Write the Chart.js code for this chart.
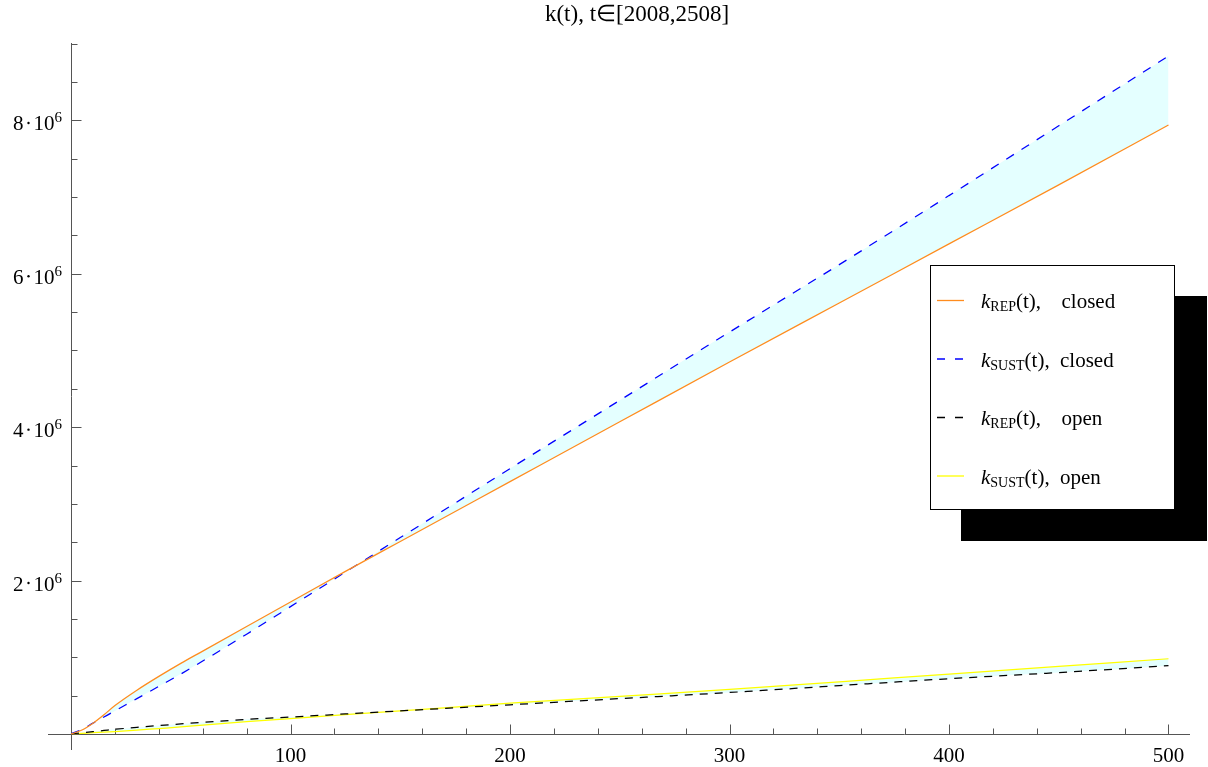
<!DOCTYPE html>
<html>
<head>
<meta charset="utf-8">
<script src="https://cdn.jsdelivr.net/npm/chart.js@4/dist/chart.umd.min.js"></script>
<style>
html,body{margin:0;padding:0;background:#fff;}
#wrap{width:1208px;height:767px;}
</style>
</head>
<body>
<div id="wrap"><canvas id="c" width="1208" height="767"></canvas></div>
<script>
// ---- data (y values in millions) ----
const UNIT = 1e6;
const tValues = [0,5,10,15,20,30,40,50,60,80,100,125,150,200,250,300,350,400,450,500];
const kRepClosed  = [0,0.05,0.14,0.25,0.37,0.57,0.75,0.92,1.08,1.40,1.72,2.12,2.51,3.29,4.07,4.85,5.62,6.39,7.16,7.94];
const kSustClosed = [0,0.06,0.14,0.22,0.30,0.46,0.62,0.78,0.95,1.30,1.66,2.11,2.56,3.46,4.35,5.24,6.12,7.02,7.93,8.84];
const kRepOpen    = [0,0.015,0.03,0.045,0.06,0.085,0.11,0.13,0.15,0.19,0.22,0.26,0.30,0.38,0.46,0.54,0.63,0.72,0.80,0.89];
const kSustOpen   = [0,0.007,0.015,0.022,0.03,0.05,0.07,0.09,0.115,0.16,0.20,0.25,0.30,0.40,0.49,0.58,0.68,0.78,0.88,0.98];

const xMajorTicks = [100,200,300,400,500];
const xTickLabels = ['100','200','300','400','500'];
const yMajorTicks = [2,4,6,8];           // in millions
const yTickMantissa = ['2','4','6','8'];
const yTickExp = '6';
const titleText = 'k(t), t\u2208[2008,2508]';
const legendItems = [
  {sub:'REP',  tail:'closed', color:'rgb(255,140,30)', dash:[]},
  {sub:'SUST', tail:'closed', color:'rgb(0,0,255)',    dash:[8,10]},
  {sub:'REP',  tail:'open',   color:'rgb(0,0,0)',      dash:[8,10]},
  {sub:'SUST', tail:'open',   color:'rgb(255,255,0)',  dash:[]}
];

function pts(arr){ return tValues.map((t,i)=>({x:t, y:arr[i]*UNIT})); }

const FILL = 'rgb(228,255,255)';
const SERIF = '"Liberation Serif","Times New Roman",serif';

const axesPlugin = {
  id:'mmaAxes',
  beforeDatasetsDraw(chart){
    const ctx = chart.ctx, xs = chart.scales.x, ys = chart.scales.y;
    const x0 = Math.round(xs.getPixelForValue(0)) + 0.5;
    const y0 = Math.round(ys.getPixelForValue(0)) + 0.5;
    const ca = chart.chartArea;
    ctx.save();
    ctx.strokeStyle = 'rgb(85,85,85)';
    ctx.lineWidth = 1;
    ctx.beginPath();
    ctx.moveTo(ca.left, y0); ctx.lineTo(ca.right, y0);
    ctx.moveTo(x0, ca.top); ctx.lineTo(x0, ca.bottom);
    for (let v = 20; v <= 500; v += 20) {
      const px = Math.round(xs.getPixelForValue(v)) + 0.5;
      const len = (v % 100 === 0) ? 10 : 6;
      ctx.moveTo(px, y0); ctx.lineTo(px, y0 - len);
    }
    for (let k = 1; k <= 18; k++) {
      const v = k * 0.5;
      const py = Math.round(ys.getPixelForValue(v*UNIT)) + 0.5;
      const len = (k % 4 === 0) ? 10 : 6;
      ctx.moveTo(x0, py); ctx.lineTo(x0 + len, py);
    }
    ctx.stroke();
    ctx.fillStyle = '#000';
    ctx.font = '21px ' + SERIF;
    ctx.textAlign = 'center';
    ctx.textBaseline = 'alphabetic';
    xMajorTicks.forEach((v,i)=>{
      ctx.fillText(xTickLabels[i], xs.getPixelForValue(v), y0 + 27);
    });
    ctx.textAlign = 'left';
    yMajorTicks.forEach((v,i)=>{
      const py = ys.getPixelForValue(v*UNIT);
      const right = 62;
      ctx.font = '15px ' + SERIF;
      const ew = ctx.measureText(yTickExp).width;
      ctx.fillText(yTickExp, right - ew, py + 2);
      ctx.font = '21px ' + SERIF;
      const w10 = ctx.measureText('10').width;
      const x10 = right - ew - w10;
      ctx.fillText('10', x10, py + 10);
      // centered dot with surrounding space
      ctx.beginPath();
      ctx.arc(x10 - 5, py + 2.5, 1.2, 0, Math.PI*2);
      ctx.fill();
      const wm = ctx.measureText(yTickMantissa[i]).width;
      ctx.fillText(yTickMantissa[i], x10 - 10 - wm, py + 10);
    });
    ctx.restore();
  },
  afterDraw(chart){
    const ctx = chart.ctx;
    ctx.save();
    ctx.fillStyle = '#000';
    ctx.font = '23px ' + SERIF;
    ctx.textAlign = 'center';
    ctx.textBaseline = 'alphabetic';
    ctx.fillText(titleText, 637, 21);
    ctx.fillStyle = '#000';
    ctx.fillRect(961, 296, 246, 245);
    ctx.fillStyle = '#fff';
    ctx.fillRect(930, 265, 245, 245);
    ctx.strokeStyle = '#000';
    ctx.lineWidth = 1;
    ctx.strokeRect(930.5, 265.5, 244, 244);
    const rowY = [300, 358.5, 417, 475.5];
    legendItems.forEach((it,i)=>{
      const y = rowY[i];
      ctx.strokeStyle = it.color;
      ctx.lineWidth = 1.3;
      ctx.setLineDash(it.dash);
      ctx.beginPath();
      ctx.moveTo(937, y + 0.5); ctx.lineTo(964, y + 0.5);
      ctx.stroke();
      ctx.setLineDash([]);
      const base = y + 8;
      ctx.fillStyle = '#000';
      ctx.textAlign = 'left';
      ctx.font = 'italic 21px ' + SERIF;
      ctx.fillText('k', 981, base);
      let x = 981 + ctx.measureText('k').width;
      ctx.font = '14px ' + SERIF;
      ctx.fillText(it.sub, x, base + 3);
      x += ctx.measureText(it.sub).width;
      ctx.font = '21px ' + SERIF;
      ctx.fillText('(t),', x, base);
      ctx.fillText(it.tail, it.sub === 'REP' ? 1061.5 : 1060, base);
    });
    ctx.restore();
  }
};

const lineDefaults = {pointRadius:0, borderWidth:1.25, cubicInterpolationMode:'monotone'};

new Chart(document.getElementById('c'), {
  type:'line',
  data:{
    datasets:[
      Object.assign({label:'kREP(t), closed',  data:pts(kRepClosed),  borderColor:'rgb(255,140,30)', fill:false}, lineDefaults),
      Object.assign({label:'kSUST(t), closed', data:pts(kSustClosed), borderColor:'rgb(0,0,255)', borderDash:[9,9], fill:{target:0}, backgroundColor:FILL}, lineDefaults),
      Object.assign({label:'kREP(t), open',    data:pts(kRepOpen),    borderColor:'rgb(0,0,0)', borderDash:[8,7], fill:false}, lineDefaults),
      Object.assign({label:'kSUST(t), open',   data:pts(kSustOpen),   borderColor:'rgb(255,255,0)', fill:{target:2}, backgroundColor:FILL}, lineDefaults)
    ]
  },
  options:{
    responsive:false,
    animation:false,
    layout:{padding:{left:48, right:18, top:43, bottom:17}},
    scales:{
      x:{type:'linear', min:-10.5, max:509.8, display:false},
      y:{type:'linear', min:-0.21e6, max:9.01e6, display:false}
    },
    plugins:{
      legend:{display:false},
      title:{display:false},
      tooltip:{enabled:false},
      filler:{drawTime:'beforeDatasetsDraw'}
    }
  },
  plugins:[axesPlugin]
});
</script>
</body>
</html>
